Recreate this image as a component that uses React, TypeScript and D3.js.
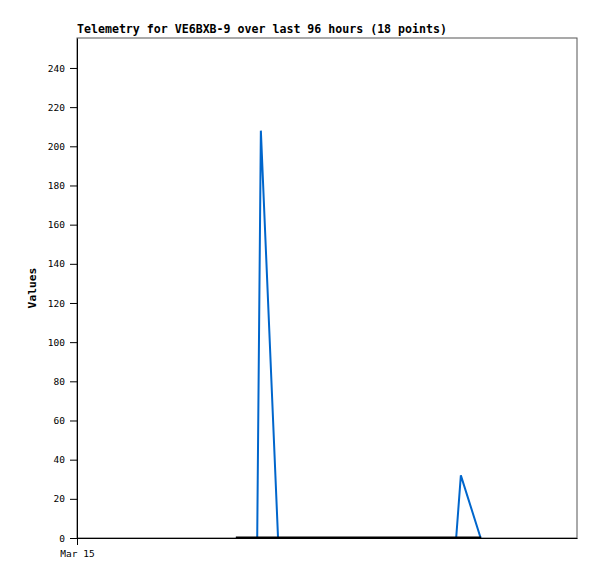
import * as d3 from "d3";
import { useEffect, useRef } from "react";

const title = "Telemetry for VE6BXB-9 over last 96 hours (18 points)";
const yLabel = "Values";
// hours since the start of the window
const blueHours = [30.5, 32.5, 34.6, 35.3, 38.6, 42, 46, 50, 54, 58, 61, 64, 67, 70, 72.8, 73.7, 77.5, 77.6];
const blueValues = [0, 0, 0, 208, 0, 0, 0, 0, 0, 0, 0, 0, 0, 0, 0, 32, 0, 0];
const blackHours = [30.5, 77.6];
const blackValues = [0, 0];
const yTicks = [0, 20, 40, 60, 80, 100, 120, 140, 160, 180, 200, 220, 240];
const xTickLabels = ["Mar 15"];
const xTickHours = [0];

export default function App() {
  const width = 597, height = 579;
  const marginLeft = 77, marginRight = 20, marginTop = 38, marginBottom = 41;
  const gx = useRef<SVGGElement>(null);
  const gy = useRef<SVGGElement>(null);

  const x = d3.scaleLinear([0, 96], [marginLeft, width - marginRight]);
  const y = d3.scaleLinear([0, 255.3], [height - marginBottom, marginTop]);

  const line = d3.line<[number, number]>()
    .x(d => x(d[0]))
    .y(d => y(d[1]));

  const blue = blueHours.map((h, i) => [h, blueValues[i]] as [number, number]);
  const black = blackHours.map((h, i) => [h, blackValues[i]] as [number, number]);

  useEffect(() => {
    const g = d3.select(gy.current!);
    g.call(d3.axisLeft(y).tickValues(yTicks).tickSize(7).tickSizeOuter(0).tickPadding(5).tickFormat(d3.format("d")));
    g.select(".domain").attr("stroke", "#000");
    g.selectAll("text").attr("font-family", "DejaVu Sans Mono").attr("font-size", 9.5).attr("fill", "#000");
  }, []);

  useEffect(() => {
    const g = d3.select(gx.current!);
    g.call(d3.axisBottom(x).tickValues(xTickHours).tickSize(7).tickSizeOuter(0).tickPadding(5)
      .tickFormat((_, i) => xTickLabels[i]));
    g.select(".domain").attr("stroke", "#000");
    g.selectAll("text").attr("font-family", "DejaVu Sans Mono").attr("font-size", 9.5).attr("fill", "#000");
  }, []);

  return (
    <svg width={width} height={height} style={{ position: "absolute", left: 0, top: 0, background: "#fff" }}>
      <rect x={marginLeft} y={marginTop} width={width - marginLeft - marginRight}
            height={height - marginTop - marginBottom} fill="none" stroke="#555" strokeWidth={1} />
      <text x={marginLeft} y={33} fontFamily="DejaVu Sans Mono" fontWeight="bold" fontSize={11.6} fill="#000">{title}</text>
      <text transform={`translate(36,${(marginTop + height - marginBottom) / 2}) rotate(-90)`} textAnchor="middle"
            fontFamily="DejaVu Sans Mono" fontWeight="bold" fontSize={11.3} fill="#000">{yLabel}</text>
      <path fill="none" stroke="#0066cc" strokeWidth={2} d={line(blue)!} />
      <path fill="none" stroke="#000" strokeWidth={2} d={line(black)!} transform="translate(0,-0.5)" />
      <g ref={gx} transform={`translate(0,${height - marginBottom})`} />
      <g ref={gy} transform={`translate(${marginLeft},0)`} />
    </svg>
  );
}
